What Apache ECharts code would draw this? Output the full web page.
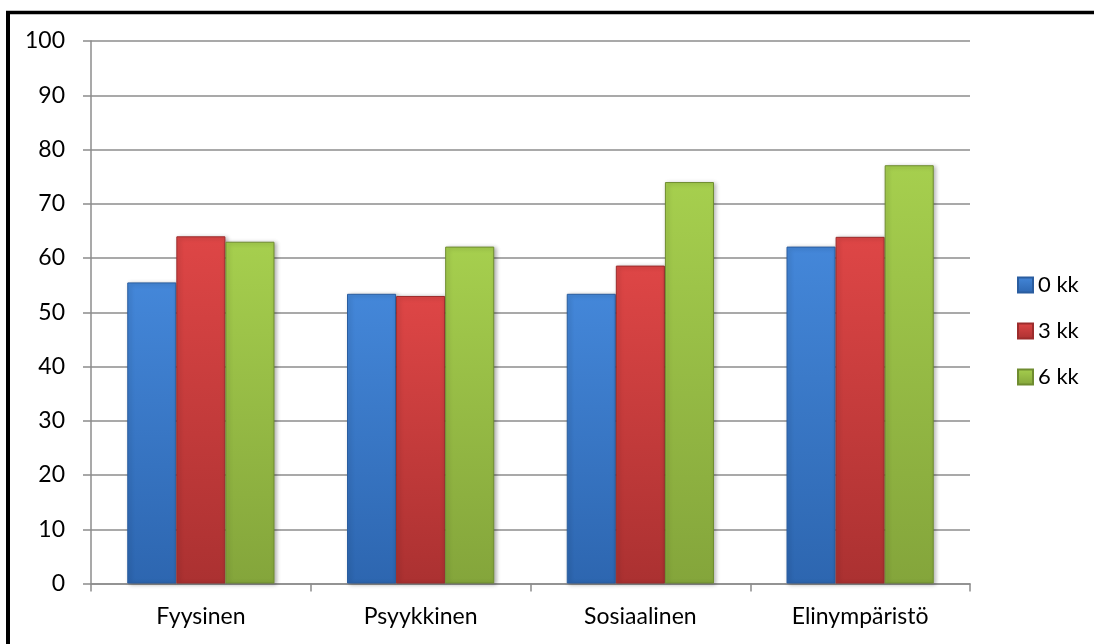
<!DOCTYPE html>
<html>
<head>
<meta charset="utf-8">
<script src="https://cdn.jsdelivr.net/npm/echarts@6/dist/echarts.min.js"></script>
<style>
html,body{margin:0;padding:0;background:#fff;}
#chart{width:1094px;height:644px;}
</style>
</head>
<body>
<div id="chart"></div>
<script>
const categories = ['Fyysinen', 'Psyykkinen', 'Sosiaalinen', 'Elinympäristö'];
const seriesNames = ['0 kk', '3 kk', '6 kk'];
const values0 = [55.5, 53.4, 53.4, 62.1];
const values3 = [64.0, 53.0, 58.6, 63.9];
const values6 = [63.0, 62.1, 74.0, 77.1];
const yTicks = [0, 10, 20, 30, 40, 50, 60, 70, 80, 90, 100];

const FONT = 'Lato';
const palette = [
  { top: '#4487d9', bottom: '#2d66b0', border: '#2a5d9f', icon: '#3a78c8' },
  { top: '#de4646', bottom: '#ab3131', border: '#9c2c2c', icon: '#c83a3a' },
  { top: '#a6cf4e', bottom: '#84a53b', border: '#6f8c30', icon: '#94bb44' }
];

function grad(p) {
  return new echarts.graphic.LinearGradient(0, 0, 0, 1, [
    { offset: 0, color: p.top },
    { offset: 1, color: p.bottom }
  ]);
}

const dataSets = [values0, values3, values6];
const chart = echarts.init(document.getElementById('chart'), null, { renderer: 'canvas' });

chart.setOption({
  animation: false,
  backgroundColor: '#ffffff',
  textStyle: { fontFamily: FONT },
  grid: { left: 91, right: 124, top: 41, bottom: 60.5, containLabel: false },
  legend: {
    orient: 'vertical',
    left: 1012,
    top: 269,
    itemWidth: 15,
    itemHeight: 15,
    itemGap: 24,
    icon: 'rect',
    textStyle: { fontFamily: FONT, fontSize: 22, color: '#000' },
    data: seriesNames
  },
  xAxis: {
    type: 'category',
    data: categories,
    axisLine: { show: true, lineStyle: { color: '#8c8c8c', width: 1.5 } },
    axisTick: { show: true, length: 8, lineStyle: { color: '#8c8c8c', width: 1.5 } },
    axisLabel: { color: '#000', fontFamily: FONT, fontSize: 23, margin: 22 }
  },
  yAxis: {
    type: 'value',
    min: yTicks[0],
    max: yTicks[yTicks.length - 1],
    interval: 10,
    axisLine: { show: true, lineStyle: { color: '#8c8c8c', width: 1.5 } },
    axisTick: { show: true, length: 8, lineStyle: { color: '#8c8c8c', width: 1.5 } },
    splitLine: { show: true, lineStyle: { color: '#8c8c8c', width: 1.5 } },
    axisLabel: { color: '#000', fontFamily: FONT, fontSize: 23, margin: 26 }
  },
  series: seriesNames.map((name, i) => ({
    name: name,
    type: 'bar',
    data: dataSets[i],
    barGap: '0%',
    barCategoryGap: '33%',
    itemStyle: {
      color: grad(palette[i]),
      borderColor: palette[i].border,
      borderWidth: 1,
      shadowBlur: 4,
      shadowColor: 'rgba(0,0,0,0.3)',
      shadowOffsetX: 2,
      shadowOffsetY: 1
    }
  })),
  color: palette.map(p => p.icon),
  graphic: [
    { type: 'line', shape: { x1: 8, y1: 11, x2: 8, y2: 644 }, style: { stroke: '#000', lineWidth: 4 } },
    { type: 'line', shape: { x1: 6, y1: 12.5, x2: 1094, y2: 12.5 }, style: { stroke: '#000', lineWidth: 3.5 } }
  ]
});
</script>
</body>
</html>
